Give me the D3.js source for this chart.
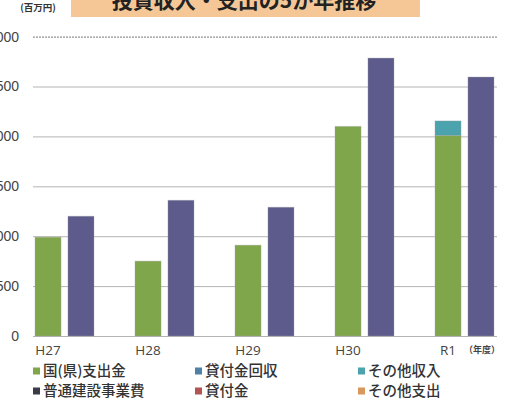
<!DOCTYPE html>
<html lang="ja">
<head>
<meta charset="utf-8">
<script src="https://cdn.jsdelivr.net/npm/d3@7/dist/d3.min.js"></script>
<style>
  html, body { margin: 0; padding: 0; background: #ffffff; }
  svg { display: block; font-family: "Noto Sans CJK JP", "Noto Sans", sans-serif; }
</style>
</head>
<body>
<svg id="chart" width="516" height="409"></svg>
<script>
// 年度
const categories = ["H27", "H28", "H29", "H30", "R1"];

// 収入（百万円）
const govSubsidy   = [990, 750, 910, 2100, 2010];   // 国(県)支出金
const loanRecovery = [0, 0, 0, 0, 0];              // 貸付金回収
const otherRevenue = [0, 0, 0, 0, 145];            // その他収入

// 支出（百万円）
const construction = [1200, 1360, 1290, 2785, 2595]; // 普通建設事業費
const loans        = [0, 0, 0, 0, 0];               // 貸付金
const otherExpense = [0, 0, 0, 0, 0];               // その他支出

const yTicks = [0, 500, 1000, 1500, 2000, 2500, 3000];

const seriesNames = ["国(県)支出金", "貸付金回収", "その他収入", "普通建設事業費", "貸付金", "その他支出"];
const seriesColors = ["#80a64c", "#4f81a6", "#4aa3ad", "#5d5a8c", "#b35452", "#d9975e"];
const legendColors = ["#80a64c", "#4f81a6", "#4aa3ad", "#3b3b48", "#b35452", "#d9975e"];

const revenueKeys = ["govSubsidy", "loanRecovery", "otherRevenue"];
const expenseKeys = ["construction", "loans", "otherExpense"];

const rows = categories.map((c, i) => ({
  year: c,
  govSubsidy: govSubsidy[i],
  loanRecovery: loanRecovery[i],
  otherRevenue: otherRevenue[i],
  construction: construction[i],
  loans: loans[i],
  otherExpense: otherExpense[i]
}));

const svg = d3.select("#chart");

// タイトル帯
svg.append("rect")
  .attr("x", 71).attr("y", -10).attr("width", 349).attr("height", 27)
  .attr("fill", "#f5c797");
svg.append("text")
  .attr("x", 244).attr("y", 8)
  .attr("text-anchor", "middle")
  .attr("font-size", 21).attr("font-weight", 700).attr("fill", "#222")
  .text("投資収入・支出の5か年推移");

svg.append("text")
  .attr("x", 38).attr("y", 11)
  .attr("text-anchor", "middle")
  .attr("font-size", 9.5).attr("font-weight", 700).attr("fill", "#333")
  .text("(百万円)");

// スケール
const x = d3.scaleBand().domain(categories).range([15, 515]);
const x1 = d3.scaleBand().domain(["rev", "exp"]).range([20, 79]).paddingInner(0.21);
const y = d3.scaleLinear().domain([0, 3000]).range([336, 36.6]);

// 目盛線
const grid = svg.append("g").attr("transform", "translate(33,0)")
  .call(d3.axisRight(y).tickValues(yTicks).tickSize(464).tickFormat(""));
grid.select(".domain").remove();
grid.selectAll(".tick line")
  .attr("stroke", d => d === 3000 ? "#777" : "#b4b4b4")
  .attr("stroke-width", 1)
  .attr("stroke-dasharray", d => d === 3000 ? "2,1" : null);

// 縦軸ラベル
const yAxis = svg.append("g").attr("transform", "translate(19,0)")
  .call(d3.axisLeft(y).tickValues(yTicks).tickSize(0).tickPadding(0).tickFormat(d3.format(",")));
yAxis.select(".domain").remove();
yAxis.selectAll("text")
  .attr("font-family", "'Liberation Sans', Arial, sans-serif")
  .attr("font-size", 14).attr("fill", "#444");

// 積み上げ棒
const revStack = d3.stack().keys(revenueKeys)(rows);
const expStack = d3.stack().keys(expenseKeys)(rows);

function drawStack(stack, side, colorOffset) {
  stack.forEach((layer, k) => {
    svg.append("g")
      .attr("fill", seriesColors[colorOffset + k])
      .selectAll("rect")
      .data(layer.filter(d => d[1] > d[0]))
      .join("rect")
      .attr("x", d => x(d.data.year) + x1(side))
      .attr("y", d => y(d[1]))
      .attr("width", x1.bandwidth())
      .attr("height", d => y(d[0]) - y(d[1]))
      .attr("stroke", "rgba(160,160,160,0.35)")
      .attr("stroke-width", 1);
  });
}
drawStack(revStack, "rev", 0);
drawStack(expStack, "exp", 3);

// 横軸ラベル（収入棒の中心）
const xAxis = svg.append("g").attr("transform", "translate(0,355)")
  .call(d3.axisBottom(x).tickSize(0).tickPadding(0));
xAxis.select(".domain").remove();
xAxis.selectAll("text")
  .attr("dx", x1("rev") + x1.bandwidth() / 2 - x.bandwidth() / 2)
  .attr("dy", 0)
  .attr("font-family", "'Open Sans', 'Noto Sans', sans-serif")
  .attr("font-size", 13.5).attr("fill", "#444");

svg.append("text")
  .attr("x", 482).attr("y", 353)
  .attr("text-anchor", "middle")
  .attr("font-size", 9).attr("font-weight", 700).attr("fill", "#444")
  .text("（年度）");

// 凡例
const legendX = [33, 195, 358];
const legendY = [371, 391];
const legend = svg.append("g")
  .selectAll("g")
  .data(seriesNames)
  .join("g")
  .attr("transform", (d, i) => `translate(${legendX[i % 3]},${legendY[Math.floor(i / 3)]})`);
legend.append("rect")
  .attr("x", 0).attr("y", -3.5).attr("width", 7).attr("height", 7)
  .attr("fill", (d, i) => legendColors[i]);
legend.append("text")
  .attr("x", 10).attr("y", 0).attr("dy", "0.36em")
  .attr("font-size", 14.5).attr("font-weight", 500).attr("fill", "#333")
  .text(d => d);
</script>
</body>
</html>
